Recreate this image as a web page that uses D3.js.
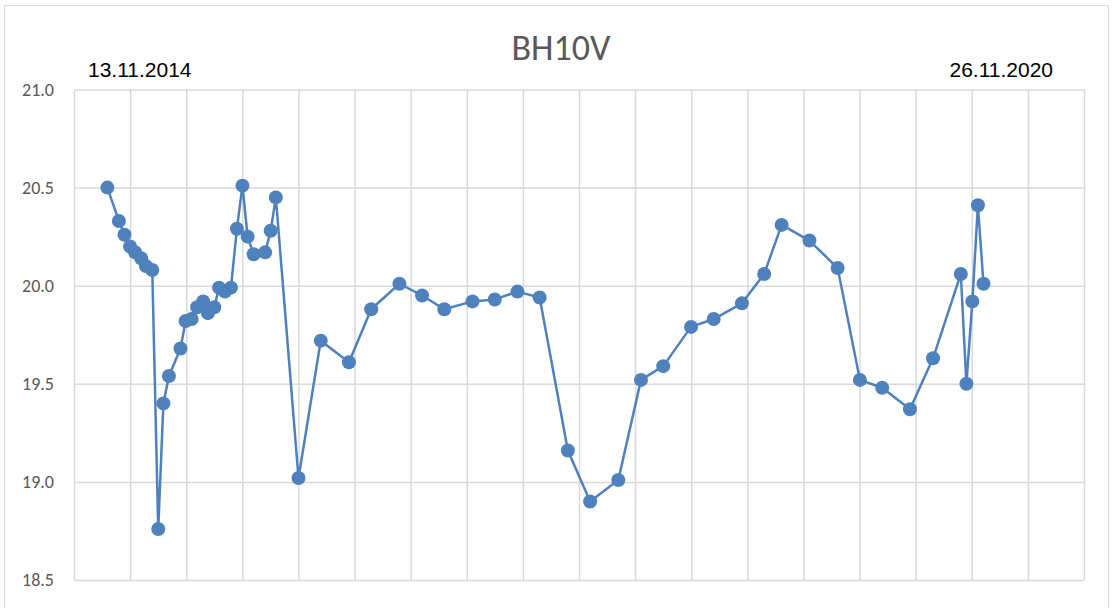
<!DOCTYPE html>
<html>
<head>
<meta charset="utf-8">
<script src="https://cdn.jsdelivr.net/npm/d3@7"></script>
<style>
  html, body { margin: 0; padding: 0; background: #fff; }
  svg { display: block; }
</style>
</head>
<body>
<svg id="chart" width="1113" height="608"></svg>
<script>
// Water level readings for borehole BH10V.
// Days are counted from the first reading (13.11.2014); the last reading is 26.11.2020.
const days = [
  0, 29, 43, 57, 70, 85, 97, 113, 128, 141,
  155, 184, 197, 212, 226, 241, 253, 269, 281, 296,
  311, 326, 340, 353, 368, 397, 411, 424, 481, 537,
  608, 664, 735, 792, 848, 919, 975, 1032, 1088, 1159,
  1215, 1286, 1343, 1399, 1469, 1526, 1597, 1653, 1697, 1767,
  1838, 1894, 1950, 2020, 2078, 2148, 2162, 2177, 2191, 2205
];
const levels = [
  20.50, 20.33, 20.26, 20.20, 20.17, 20.14, 20.10, 20.08, 18.76, 19.40,
  19.54, 19.68, 19.82, 19.83, 19.89, 19.92, 19.86, 19.89, 19.99, 19.97,
  19.99, 20.29, 20.51, 20.25, 20.16, 20.17, 20.28, 20.45, 19.02, 19.72,
  19.61, 19.88, 20.01, 19.95, 19.88, 19.92, 19.93, 19.97, 19.94, 19.16,
  18.90, 19.01, 19.52, 19.59, 19.79, 19.83, 19.91, 20.06, 20.31, 20.23,
  20.09, 19.52, 19.48, 19.37, 19.63, 20.06, 19.50, 19.92, 20.41, 20.01
];
const yTicks = [18.5, 19.0, 19.5, 20.0, 20.5, 21.0];
const xDomain = [-84, 2458];
const xDivisions = 18;
const chartTitle = "BH10V";
const startLabel = "13.11.2014";
const endLabel = "26.11.2020";

const svg = d3.select("#chart");
const W = 1113, H = 608;
const margin = { left: 74, right: W - 1084, top: 89.5, bottom: H - 580 };

const x = d3.scaleLinear().domain(xDomain).range([margin.left, W - margin.right]);
const y = d3.scaleLinear().domain([18.5, 21.0]).range([H - margin.bottom, margin.top]);

// chart frame
svg.append("rect")
  .attr("x", 4.5).attr("y", 5.5)
  .attr("width", 1104).attr("height", 620)
  .attr("fill", "#fff").attr("stroke", "#d9d9d9").attr("stroke-width", 1);

// vertical gridlines, evenly spaced across the x domain
const xGrid = d3.range(xDivisions + 1).map(i => xDomain[0] + i * (xDomain[1] - xDomain[0]) / xDivisions);
svg.append("g")
  .attr("transform", `translate(0,${H - margin.bottom})`)
  .call(d3.axisBottom(x).tickValues(xGrid).tickSize(-(H - margin.top - margin.bottom)).tickFormat(""))
  .call(g => g.select(".domain").remove())
  .call(g => g.selectAll("line").attr("stroke", "#d9d9d9").attr("stroke-width", 1.5));

// horizontal gridlines and value labels
svg.append("g")
  .attr("transform", `translate(${margin.left},0)`)
  .call(d3.axisLeft(y).tickValues(yTicks).tickSize(-(W - margin.left - margin.right)).tickFormat(d3.format(".1f")).tickPadding(20))
  .call(g => g.select(".domain").remove())
  .call(g => g.selectAll("line").attr("stroke", "#d9d9d9").attr("stroke-width", 1.5))
  .call(g => g.selectAll("text")
    .attr("fill", "#595959")
    .attr("font-family", "Carlito, 'Open Sans', sans-serif")
    .attr("font-size", 18));

// series line
const line = d3.line()
  .x((d, i) => x(days[i]))
  .y(d => y(d));

svg.append("path")
  .datum(levels)
  .attr("fill", "none")
  .attr("stroke", "#4f81bd")
  .attr("stroke-width", 2.5)
  .attr("stroke-linejoin", "round")
  .attr("d", line);

// markers
svg.append("g")
  .selectAll("circle")
  .data(levels)
  .join("circle")
  .attr("cx", (d, i) => x(days[i]))
  .attr("cy", d => y(d))
  .attr("r", 7)
  .attr("fill", "#4f81bd");

// title
svg.append("text")
  .attr("x", 561).attr("y", 60)
  .attr("text-anchor", "middle")
  .attr("fill", "#595959")
  .attr("font-family", "Carlito, 'Open Sans', sans-serif")
  .attr("font-size", 36)
  .text(chartTitle);

// first and last reading dates
svg.append("text")
  .attr("x", 88).attr("y", 77)
  .attr("fill", "#000")
  .attr("font-family", "'Liberation Sans', Arial, sans-serif")
  .attr("font-size", 21)
  .text(startLabel);

svg.append("text")
  .attr("x", 1053).attr("y", 77)
  .attr("text-anchor", "end")
  .attr("fill", "#000")
  .attr("font-family", "'Liberation Sans', Arial, sans-serif")
  .attr("font-size", 21)
  .text(endLabel);
</script>
</body>
</html>
